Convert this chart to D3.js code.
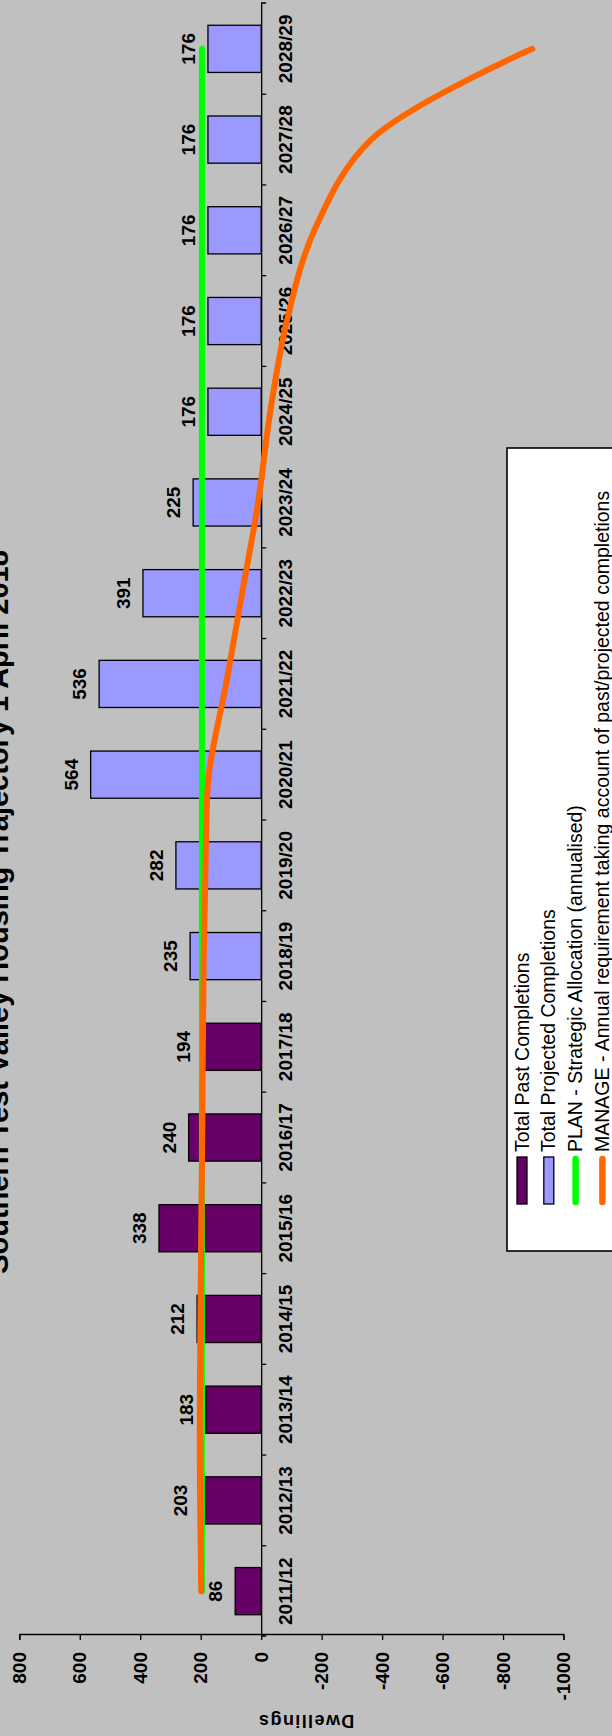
<!DOCTYPE html>
<html>
<head>
<meta charset="utf-8">
<script src="https://cdn.jsdelivr.net/npm/d3@7"></script>
<style>
  body { margin: 0; background: #c0c0c0; }
  svg { display: block; font-family: Arial, "Liberation Sans", sans-serif; }
</style>
</head>
<body>
<script>
const WIDTH = 612;
const HEIGHT = 1736;

// the chart is a landscape chart turned on its side
const LW = HEIGHT;

const years = ["2011/12", "2012/13", "2013/14", "2014/15", "2015/16", "2016/17",
               "2017/18", "2018/19", "2019/20", "2020/21", "2021/22", "2022/23",
               "2023/24", "2024/25", "2025/26", "2026/27", "2027/28", "2028/29"];
const pastYears = ["2011/12", "2012/13", "2013/14", "2014/15", "2015/16", "2016/17", "2017/18"];
const pastCompletions = [86, 203, 183, 212, 338, 240, 194];
const projectedYears = ["2018/19", "2019/20", "2020/21", "2021/22", "2022/23", "2023/24",
                        "2024/25", "2025/26", "2026/27", "2027/28", "2028/29"];
const projectedCompletions = [235, 282, 564, 536, 391, 225, 176, 176, 176, 176, 176];
const plan = [196, 196, 196, 196, 196, 196, 196, 196, 196,
              196, 196, 196, 196, 196, 196, 196, 196, 196];
const manage = [198, 202, 203, 201, 198, 195, 193, 190, 184, 173, 116, 63, 10, -30, -85, -176, -364, -897];
const valueTicks = [800, 600, 400, 200, 0, -200, -400, -600, -800, -1000];
const legendItems = [
  {label: "Total Past Completions", type: "rect", color: "#660066"},
  {label: "Total Projected Completions", type: "rect", color: "#9999ff"},
  {label: "PLAN - Strategic Allocation (annualised)", type: "line", color: "#00ff00"},
  {label: "MANAGE - Annual requirement taking account of past/projected completions", type: "line", color: "#ff6600"}
];

const svg = d3.select("body")
              .append("svg")
              .attr("width", WIDTH)
              .attr("height", HEIGHT);

const g = svg.append("g")
             .attr("transform", "translate(0," + LW + ") rotate(-90)");

const x = d3.scaleBand()
            .domain(years)
            .range([99.5, 1732.5])
            .paddingInner(0.48)
            .paddingOuter(0.24);

const y = d3.scaleLinear()
            .domain([-1000, 800])
            .range([563.5, 19.3]);

// title
g.append("text")
 .attr("x", 824)
 .attr("y", 8)
 .attr("text-anchor", "middle")
 .attr("font-size", 29)
 .attr("font-weight", "bold")
 .text("Southern Test Valley Housing Trajectory 1 April 2018");

// value axis
const yAxis = d3.axisLeft(y)
                .tickValues(valueTicks)
                .tickSize(5)
                .tickPadding(12)
                .tickFormat(d => String(d));

const ya = g.append("g")
            .attr("transform", "translate(101,0)")
            .call(yAxis);
ya.selectAll("path, line").attr("stroke", "#000").attr("stroke-width", 1.3);
ya.selectAll("text")
  .attr("font-size", 19)
  .attr("font-weight", "bold")
  .attr("fill", "#000")
  .attr("font-family", "Arial, 'Liberation Sans', sans-serif");

g.append("text")
 .attr("transform", "translate(21," + 306 + ") rotate(-90)")
 .attr("text-anchor", "middle")
 .attr("font-size", 18)
 .attr("font-weight", "bold")
 .attr("letter-spacing", 1.4)
 .text("Dwellings");

// category axis at zero
const xAxis = d3.axisBottom(x)
                .tickSize(0)
                .tickSizeOuter(5)
                .tickPadding(17);

const xa = g.append("g")
            .attr("transform", "translate(0," + y(0) + ")")
            .call(xAxis);
xa.select(".domain").attr("stroke", "#000").attr("stroke-width", 1.3);
xa.selectAll("text")
  .attr("font-size", 19)
  .attr("font-weight", "bold")
  .attr("fill", "#000")
  .attr("font-family", "Arial, 'Liberation Sans', sans-serif");

xa.selectAll(".bound")
  .data(years.slice(1))
  .join("line")
  .attr("class", "bound")
  .attr("x1", d => x(d) - x.step() * x.paddingInner() / 2)
  .attr("x2", d => x(d) - x.step() * x.paddingInner() / 2)
  .attr("y1", 0)
  .attr("y2", 5)
  .attr("stroke", "#000")
  .attr("stroke-width", 1.3);

// bars
const drawBars = (cats, vals, color) => {
  const data = cats.map((c, i) => ({year: c, value: vals[i]}));
  g.append("g")
   .selectAll("rect")
   .data(data)
   .join("rect")
   .attr("x", d => x(d.year))
   .attr("y", d => y(Math.max(0, d.value)))
   .attr("width", x.bandwidth())
   .attr("height", d => Math.abs(y(d.value) - y(0)))
   .attr("fill", color)
   .attr("stroke", "#000")
   .attr("stroke-width", 1.3);

  g.append("g")
   .selectAll("text")
   .data(data)
   .join("text")
   .attr("x", d => x(d.year) + x.bandwidth() / 2)
   .attr("y", d => y(d.value) - 13)
   .attr("text-anchor", "middle")
   .attr("font-size", 19)
   .attr("font-weight", "bold")
   .text(d => d.value);
}

drawBars(pastYears, pastCompletions, "#660066");
drawBars(projectedYears, projectedCompletions, "#9999ff");

// lines
const lineGen = d3.line()
                  .x((d, i) => x(years[i]) + x.bandwidth() / 2)
                  .y(d => y(d));

g.append("path")
 .datum(plan)
 .attr("d", lineGen)
 .attr("fill", "none")
 .attr("stroke", "#00ff00")
 .attr("stroke-width", 6)
 .attr("stroke-linecap", "round");

g.append("path")
 .datum(manage)
 .attr("d", lineGen.curve(d3.curveCatmullRom))
 .attr("fill", "none")
 .attr("stroke", "#ff6600")
 .attr("stroke-width", 6)
 .attr("stroke-linecap", "round");

// legend
const lg = g.append("g").attr("transform", "translate(485,507)");
lg.append("rect")
  .attr("width", 803)
  .attr("height", 160)
  .attr("fill", "#fff")
  .attr("stroke", "#000")
  .attr("stroke-width", 1.6);

const item = lg.selectAll(".item")
               .data(legendItems)
               .join("g")
               .attr("class", "item")
               .attr("transform", (d, i) => "translate(0," + (15 + i * 26.8) + ")");

item.filter(d => d.type === "rect")
    .append("rect")
    .attr("x", 47)
    .attr("y", -5)
    .attr("width", 47)
    .attr("height", 10)
    .attr("fill", d => d.color)
    .attr("stroke", "#000")
    .attr("stroke-width", 1.3);

item.filter(d => d.type === "line")
    .append("line")
    .attr("x1", 49)
    .attr("x2", 92)
    .attr("stroke", d => d.color)
    .attr("stroke-width", 6.5)
    .attr("stroke-linecap", "round");

item.append("text")
    .attr("x", 99)
    .attr("y", 6.5)
    .attr("font-size", 19.5)
    .text(d => d.label);
</script>
</body>
</html>
